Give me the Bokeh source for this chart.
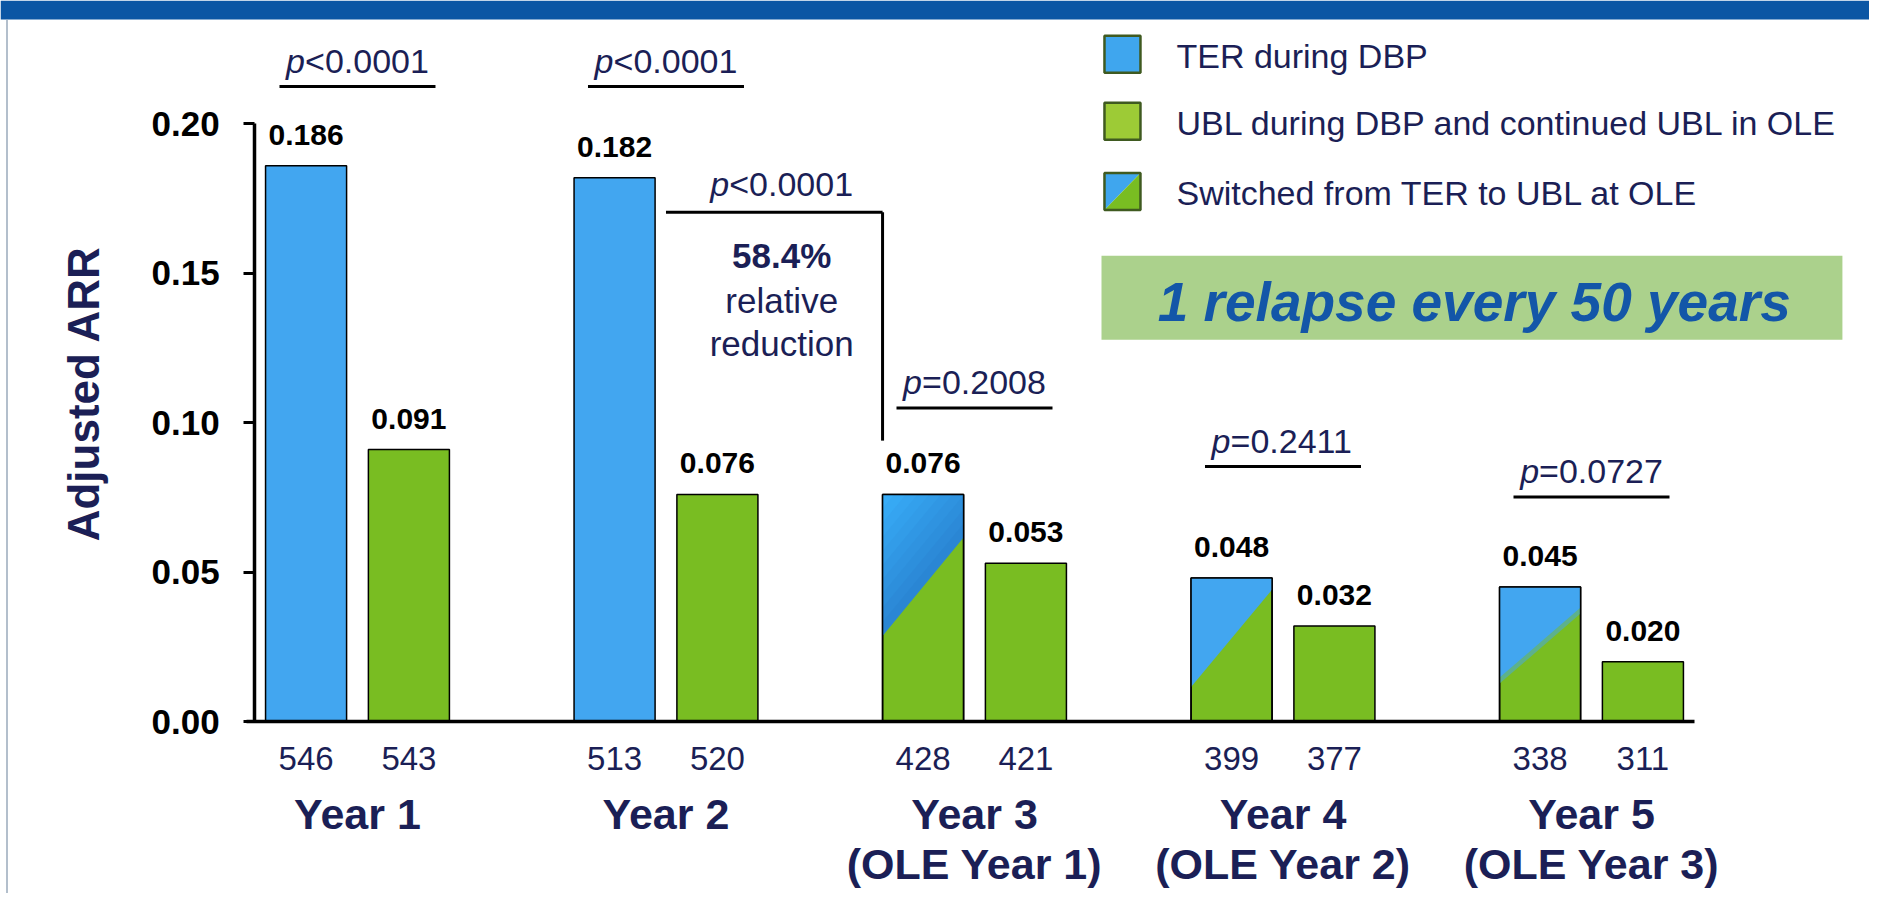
import math
from bokeh.plotting import figure
from bokeh.models import Range1d, LinearAxis, FixedTicker, NumeralTickFormatter
from bokeh.core.properties import value
from bokeh.embed import file_html
from bokeh.resources import INLINE

# ---------------- data ----------------
year_labels = ["Year 1", "Year 2", "Year 3\n(OLE Year 1)", "Year 4\n(OLE Year 2)", "Year 5\n(OLE Year 3)"]
arr_ter_or_switch = [0.186, 0.182, 0.076, 0.048, 0.045]   # TER during DBP (Y1-2) / switched TER->UBL (Y3-5)
arr_ubl = [0.091, 0.076, 0.053, 0.032, 0.020]              # UBL during DBP and continued UBL in OLE
n_ter_or_switch = [546, 513, 428, 399, 338]
n_ubl = [543, 520, 421, 377, 311]
switched = [False, False, True, True, True]
p_values = ["<0.0001", "<0.0001", "=0.2008", "=0.2411", "=0.0727"]
bracket_p = "<0.0001"
bracket_lines = ["58.4%", "relative", "reduction"]
y_ticks = [0.0, 0.05, 0.10, 0.15, 0.20]
legend_labels = ["TER during DBP", "UBL during DBP and continued UBL in OLE", "Switched from TER to UBL at OLE"]
slogan = "1 relapse every 50 years"
y_title = "Adjusted ARR"

# ---------------- layout ----------------
W, H = 1869, 893
X0 = -6.943
X1 = X0 + W / 51.417
Y1 = 721 / 2988
Y0 = Y1 - H / 2988
PX = (X1 - X0) / W
PY = (Y1 - Y0) / H
TDY = 10 * PY            # lift for alphabetic-baseline texts
STEP = 6.0
OFF = 1.0
BAR_W = 1.576
AXIS_X = -2.0
AXIS_XEND = 26.0
p_underline_y = [0.2125, 0.2125, 0.1049, 0.0853, 0.0751]
bracket_y, bracket_drop = 0.1704, 0.0940
bracket_text_x = 8.25
bracket_text_y = [0.1767, 0.1526, 0.1376, 0.1232]
legend_x, legend_text_x = 14.878, 15.928
legend_rows = [0.2233, 0.2009, 0.1774]
box_l, box_r, box_b, box_t = 14.47, 28.88, 0.1278, 0.1559
slogan_x, slogan_y = 21.72, 0.1359
header_bottom = (721 - 19) / 2988
# diagonal split of the "switched" bars (fraction of bar height at left / right edge) and shading style
split_frac = [(0.376, 0.81), (0.24, 0.92), (0.305, 0.825)]
split_style = ["gradient", "flat", "soft"]

FONT = "Liberation Sans"
BLUE = "#42a6f0"
BLUE_DARK = "#2a86d4"
BLUE_LIGHT = "#38adf8"
BLEND = "#5db18c"
GREEN = "#79bd22"
NAVY = "#1b1f56"
LEG_BLUE = "#3fa6ee"
LEG_GREEN = "#9dcb36"
LEG_EDGE = "#3f5a20"
BOX = "#abd18c"
SLOGAN = "#1356a8"
HEADER = "#0b56a4"


def mix(c1, c2, t):
    a = [int(c1[i:i + 2], 16) for i in (1, 3, 5)]
    b = [int(c2[i:i + 2], 16) for i in (1, 3, 5)]
    return "#%02x%02x%02x" % tuple(round(a[k] + (b[k] - a[k]) * t) for k in range(3))


def region_above(l, r, top, yl, yr):
    """Part of the bar rectangle lying above the line from (l, yl) to (r, yr)."""
    if yl >= top:
        return None
    if yr <= top:
        return [l, r, r, l], [top, top, yr, yl]
    xt = l + (top - yl) * (r - l) / (yr - yl)
    return [l, xt, l], [top, top, yl]


p = figure(width=W, height=H, x_range=Range1d(X0, X1), y_range=Range1d(Y0, Y1),
           output_backend="svg", toolbar_location=None, x_axis_type=None, y_axis_type=None,
           min_border=0, min_border_left=0, min_border_right=0, min_border_top=0, min_border_bottom=0,
           outline_line_color=None, background_fill_color="white", border_fill_color="white")

centers = [STEP * i for i in range(len(year_labels))]
x_first = [c - OFF for c in centers]
x_second = [c + OFF for c in centers]

# slide frame: header bar and thin left border
p.quad(left=[X0], right=[X1], bottom=[header_bottom], top=[Y1], fill_color=HEADER, line_color=None)
p.segment(x0=[X0 + 6.5 * PX], x1=[X0 + 6.5 * PX], y0=[Y0], y1=[header_bottom],
          line_color="#9aaabb", line_width=1.5)

# bars
first_fill = [GREEN if s else BLUE for s in switched]
p.vbar(x=x_first, top=arr_ter_or_switch, bottom=0, width=BAR_W, fill_color=first_fill,
       line_color="black", line_width=1.5)
p.vbar(x=x_second, top=arr_ubl, bottom=0, width=BAR_W, fill_color=GREEN,
       line_color="black", line_width=1.5)

pxs, pys, pcol = [], [], []
sw = [(x, v) for x, v, s in zip(x_first, arr_ter_or_switch, switched) if s]
for (x, v), (fl, fr), style in zip(sw, split_frac, split_style):
    l, r = x - BAR_W / 2, x + BAR_W / 2
    yl, yr = v * fl, v * fr
    if style == "gradient":
        n = 10
        span = (v - yl)
        for k in range(n):
            off = span * k / n
            reg = region_above(l, r, v, yl + off, yr + off)
            if reg:
                pxs.append(reg[0]); pys.append(reg[1]); pcol.append(mix(BLUE_DARK, BLUE_LIGHT, k / (n - 1)))
    elif style == "soft":
        reg = region_above(l, r, v, yl - 3 * PY, yr - 3 * PY)
        pxs.append(reg[0]); pys.append(reg[1]); pcol.append(BLEND)
        reg = region_above(l, r, v, yl + 3 * PY, yr + 3 * PY)
        pxs.append(reg[0]); pys.append(reg[1]); pcol.append(BLUE)
    else:
        reg = region_above(l, r, v, yl, yr)
        pxs.append(reg[0]); pys.append(reg[1]); pcol.append(BLUE)
p.patches(xs=pxs, ys=pys, fill_color=pcol, line_color=None)
sw_x = [x for x, v in sw]
sw_v = [v for x, v in sw]
p.vbar(x=sw_x, top=sw_v, bottom=0, width=BAR_W, fill_color=None, line_color="black", line_width=1.5)

# value labels
vals = arr_ter_or_switch + arr_ubl
vx = x_first + x_second
p.text(x=vx, y=[v + 21 * PY + TDY for v in vals], text=[f"{v:.3f}" for v in vals],
       text_font=value(FONT), text_font_size=value("30px"), text_font_style="bold",
       text_color="black", text_align="center", text_baseline="alphabetic")

# p-values with underline
PFS = 34
half = (0.556 + 3.642) * PFS / 2
anchor = (-half + 0.556 * PFS) * PX
p.segment(x0=[c - 78 * PX for c in centers], x1=[c + 78 * PX for c in centers],
          y0=p_underline_y, y1=p_underline_y, line_color="black", line_width=3)
ty = [u + 16 * PY + TDY for u in p_underline_y]
p.text(x=[c + anchor for c in centers], y=ty, text=["p"] * len(centers),
       text_font=value(FONT), text_font_size=value(f"{PFS}px"), text_font_style="italic",
       text_color=NAVY, text_align="right", text_baseline="alphabetic")
p.text(x=[c + anchor for c in centers], y=ty, text=p_values,
       text_font=value(FONT), text_font_size=value(f"{PFS}px"), text_font_style="normal",
       text_color=NAVY, text_align="left", text_baseline="alphabetic")

# bracket year2 -> year3
sw3_left = x_first[2] - BAR_W / 2
p.segment(x0=[centers[1], sw3_left], y0=[bracket_y, bracket_y], x1=[sw3_left, sw3_left],
          y1=[bracket_y, bracket_drop], line_color="black", line_width=3)
p.text(x=[bracket_text_x + anchor], y=[bracket_text_y[0] + TDY], text=["p"],
       text_font=value(FONT), text_font_size=value(f"{PFS}px"), text_font_style="italic",
       text_color=NAVY, text_align="right", text_baseline="alphabetic")
p.text(x=[bracket_text_x + anchor], y=[bracket_text_y[0] + TDY], text=[bracket_p],
       text_font=value(FONT), text_font_size=value(f"{PFS}px"),
       text_color=NAVY, text_align="left", text_baseline="alphabetic")
p.text(x=[bracket_text_x], y=[bracket_text_y[1] + TDY], text=[bracket_lines[0]],
       text_font=value(FONT), text_font_size=value("35px"), text_font_style="bold",
       text_color=NAVY, text_align="center", text_baseline="alphabetic")
p.text(x=[bracket_text_x] * 2, y=[t + TDY for t in bracket_text_y[2:]], text=bracket_lines[1:],
       text_font=value(FONT), text_font_size=value("35px"),
       text_color=NAVY, text_align="center", text_baseline="alphabetic")

# legend
hw, hh = 18 * PX, 18.5 * PY
p.rect(x=[legend_x] * 2, y=legend_rows[:2], width=36, height=37, width_units="screen",
       height_units="screen", fill_color=[LEG_BLUE, LEG_GREEN], line_color=None)
ly = legend_rows[2]
p.patches(xs=[[legend_x - hw, legend_x - hw, legend_x + hw], [legend_x - hw, legend_x + hw, legend_x + hw]],
          ys=[[ly - hh, ly + hh, ly + hh], [ly - hh, ly + hh, ly - hh]],
          fill_color=[LEG_BLUE, GREEN], line_color=None)
p.rect(x=[legend_x] * 3, y=legend_rows, width=36, height=37, width_units="screen",
       height_units="screen", fill_color=None, line_color=LEG_EDGE, line_width=2.5)
p.text(x=[legend_text_x] * 3, y=[r - 12 * PY + TDY for r in legend_rows], text=legend_labels,
       text_font=value(FONT), text_font_size=value("34px"), text_color=NAVY,
       text_align="left", text_baseline="alphabetic")

# slogan box
p.quad(left=[box_l], right=[box_r], bottom=[box_b], top=[box_t], fill_color=BOX, line_color=None)
p.text(x=[slogan_x], y=[slogan_y + TDY + 3 * PY], text=[slogan], text_font=value(FONT),
       text_font_size=value("55px"), text_font_style="bold italic", text_color=SLOGAN,
       text_align="center", text_baseline="alphabetic")

# y axis title
p.text(x=[-5.33], y=[0.1098], text=[y_title], angle=math.pi / 2, text_font=value(FONT),
       text_font_size=value("44px"), text_font_style="bold", text_color=NAVY,
       text_align="center", text_baseline="middle")

# axes
yaxis = LinearAxis(fixed_location=AXIS_X, bounds=(0, 0.2), ticker=FixedTicker(ticks=y_ticks, minor_ticks=[]),
                   formatter=NumeralTickFormatter(format="0.00"))
yaxis.axis_line_width = 3.5
yaxis.axis_line_color = "black"
yaxis.major_tick_line_width = 3
yaxis.major_tick_out = 11
yaxis.major_tick_in = 0
yaxis.minor_tick_line_color = None
yaxis.major_label_text_font = FONT
yaxis.major_label_text_font_size = "35px"
yaxis.major_label_text_font_style = "bold"
yaxis.major_label_text_color = "black"
yaxis.major_label_standoff = 24
p.add_layout(yaxis, "left")

bar_ticks = []
bar_names = {}
for xf, xs2, a, b in zip(x_first, x_second, n_ter_or_switch, n_ubl):
    bar_ticks += [int(xf), int(xs2)]
    bar_names[int(xf)] = str(a)
    bar_names[int(xs2)] = str(b)
xaxis = LinearAxis(fixed_location=0, bounds=(AXIS_X - 8 * PX, AXIS_XEND),
                   ticker=FixedTicker(ticks=bar_ticks, minor_ticks=[]), major_label_overrides=bar_names)
xaxis.axis_line_width = 3.5
xaxis.axis_line_color = "black"
xaxis.major_tick_line_color = None
xaxis.minor_tick_line_color = None
xaxis.major_label_text_font = FONT
xaxis.major_label_text_font_size = "33px"
xaxis.major_label_text_color = NAVY
xaxis.major_label_standoff = 19
p.add_layout(xaxis, "below")

group_ticks = [int(c) for c in centers]
xaxis2 = LinearAxis(fixed_location=0, ticker=FixedTicker(ticks=group_ticks, minor_ticks=[]),
                    major_label_overrides={g: t for g, t in zip(group_ticks, year_labels)})
xaxis2.axis_line_color = None
xaxis2.major_tick_line_color = None
xaxis2.minor_tick_line_color = None
xaxis2.major_label_text_font = FONT
xaxis2.major_label_text_font_size = "43px"
xaxis2.major_label_text_font_style = "bold"
xaxis2.major_label_text_color = NAVY
xaxis2.major_label_text_line_height = 1.05
xaxis2.major_label_standoff = 62
p.add_layout(xaxis2, "below")

open("out.html", "w").write(file_html(p, INLINE))
